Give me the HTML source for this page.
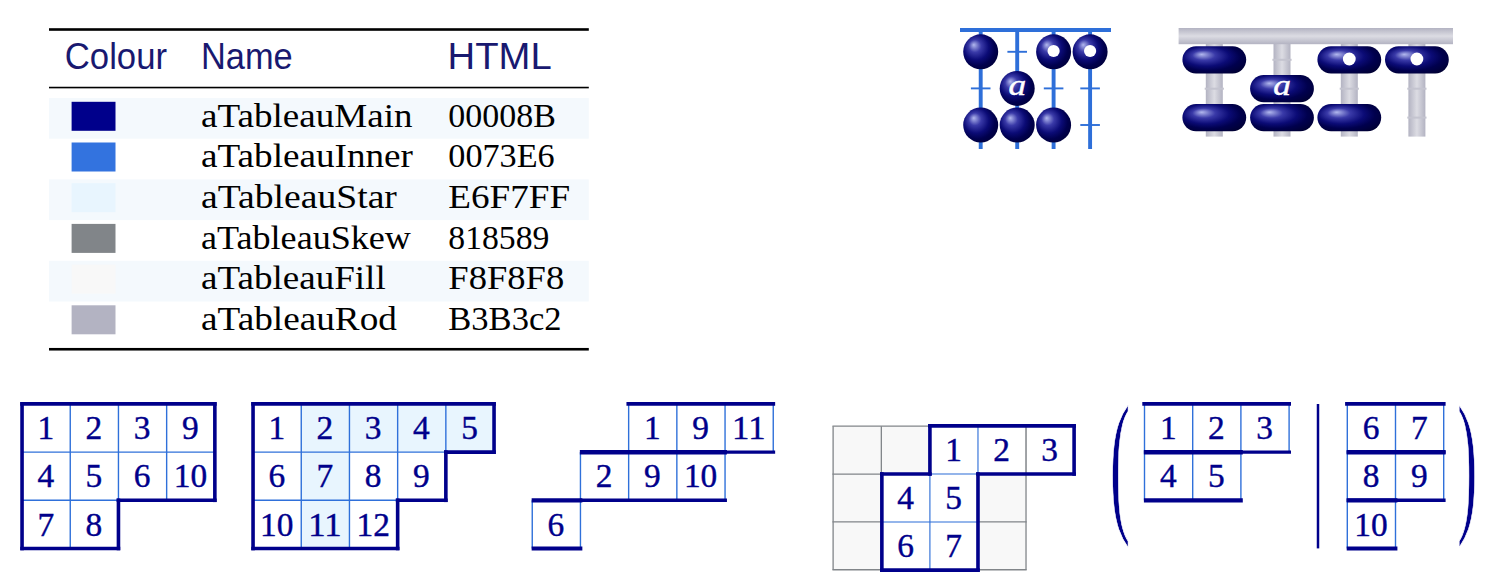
<!DOCTYPE html>
<html lang="en"><head><meta charset="utf-8"><title>aTableau colours</title>
<style>
html,body{margin:0;padding:0;background:#fff;}
body{width:1492px;height:576px;overflow:hidden;}
svg{display:block;}
text{white-space:pre;}
</style></head><body>
<svg width="1492" height="576" viewBox="0 0 1492 576">
<defs>
<radialGradient id="ball" cx="50%" cy="50%" r="100%" fx="30%" fy="30%">
<stop offset="0" stop-color="#B2B8EE"/>
<stop offset="0.18" stop-color="#3A3AA8"/>
<stop offset="0.36" stop-color="#0B0B76"/>
<stop offset="0.5" stop-color="#00004E"/>
<stop offset="1" stop-color="#000000"/>
</radialGradient>
<linearGradient id="rodv" x1="0" y1="0" x2="1" y2="0">
<stop offset="0" stop-color="#B3B3C2"/>
<stop offset="0.5" stop-color="#DCDCE3"/>
<stop offset="1" stop-color="#B3B3C2"/>
</linearGradient>
<linearGradient id="rodh" x1="0" y1="0" x2="0" y2="1">
<stop offset="0" stop-color="#B3B3C2"/>
<stop offset="0.5" stop-color="#DCDCE3"/>
<stop offset="1" stop-color="#B3B3C2"/>
</linearGradient>
</defs>
<rect width="1492" height="576" fill="#fff"/>
<rect x="49.0" y="98.0" width="539.8" height="40.7" fill="#F4F9FD"/>
<rect x="49.0" y="179.4" width="539.8" height="40.7" fill="#F4F9FD"/>
<rect x="49.0" y="260.8" width="539.8" height="40.7" fill="#F4F9FD"/>
<rect x="49.0" y="28.2" width="539.8" height="2.6" fill="#000"/>
<rect x="49.0" y="86.75" width="539.8" height="1.6" fill="#000"/>
<rect x="49.0" y="347.95" width="539.8" height="2.6" fill="#000"/>
<text x="64.8" y="68.6" font-family='"Liberation Sans", sans-serif' font-size="36.3" fill="#191970" textLength="102.2" lengthAdjust="spacingAndGlyphs">Colour</text>
<text x="201.0" y="68.6" font-family='"Liberation Sans", sans-serif' font-size="36.3" fill="#191970" textLength="91.7" lengthAdjust="spacingAndGlyphs">Name</text>
<text x="447.6" y="68.6" font-family='"Liberation Sans", sans-serif' font-size="36.3" fill="#191970" textLength="104.1" lengthAdjust="spacingAndGlyphs">HTML</text>
<rect x="71.6" y="101.8" width="43.9" height="29" fill="#00008B"/>
<text x="201.0" y="126.6" font-family='"Liberation Serif", serif' font-size="33.0" fill="#000" textLength="211.5" lengthAdjust="spacingAndGlyphs">aTableauMain</text>
<text x="448.3" y="126.6" font-family='"Liberation Serif", serif' font-size="33.0" fill="#000" textLength="107.5" lengthAdjust="spacingAndGlyphs">00008B</text>
<rect x="71.6" y="142.5" width="43.9" height="29" fill="#3373DF"/>
<text x="201.0" y="167.3" font-family='"Liberation Serif", serif' font-size="33.0" fill="#000" textLength="212.0" lengthAdjust="spacingAndGlyphs">aTableauInner</text>
<text x="448.3" y="167.3" font-family='"Liberation Serif", serif' font-size="33.0" fill="#000" textLength="106.4" lengthAdjust="spacingAndGlyphs">0073E6</text>
<rect x="71.6" y="183.2" width="43.9" height="29" fill="#E8F5FE"/>
<text x="201.0" y="208.0" font-family='"Liberation Serif", serif' font-size="33.0" fill="#000" textLength="195.9" lengthAdjust="spacingAndGlyphs">aTableauStar</text>
<text x="448.3" y="208.0" font-family='"Liberation Serif", serif' font-size="33.0" fill="#000" textLength="121.8" lengthAdjust="spacingAndGlyphs">E6F7FF</text>
<rect x="71.6" y="223.9" width="43.9" height="29" fill="#818589"/>
<text x="201.0" y="248.7" font-family='"Liberation Serif", serif' font-size="33.0" fill="#000" textLength="209.9" lengthAdjust="spacingAndGlyphs">aTableauSkew</text>
<text x="448.3" y="248.7" font-family='"Liberation Serif", serif' font-size="33.0" fill="#000" textLength="101.1" lengthAdjust="spacingAndGlyphs">818589</text>
<rect x="71.6" y="264.6" width="43.9" height="29" fill="#F8F8F8"/>
<text x="201.0" y="289.4" font-family='"Liberation Serif", serif' font-size="33.0" fill="#000" textLength="184.7" lengthAdjust="spacingAndGlyphs">aTableauFill</text>
<text x="448.3" y="289.4" font-family='"Liberation Serif", serif' font-size="33.0" fill="#000" textLength="115.9" lengthAdjust="spacingAndGlyphs">F8F8F8</text>
<rect x="71.6" y="305.3" width="43.9" height="29" fill="#B3B3C2"/>
<text x="201.0" y="330.1" font-family='"Liberation Serif", serif' font-size="33.0" fill="#000" textLength="195.9" lengthAdjust="spacingAndGlyphs">aTableauRod</text>
<text x="448.3" y="330.1" font-family='"Liberation Serif", serif' font-size="33.0" fill="#000" textLength="113.2" lengthAdjust="spacingAndGlyphs">B3B3c2</text>
<g stroke="#2E6FD9" fill="none">
<line x1="980.7" y1="30" x2="980.7" y2="149" stroke-width="3.9"/>
<line x1="1017.2" y1="30" x2="1017.2" y2="149" stroke-width="3.9"/>
<line x1="1053.6" y1="30" x2="1053.6" y2="149" stroke-width="3.9"/>
<line x1="1090.1" y1="30" x2="1090.1" y2="149" stroke-width="3.9"/>
<line x1="960" y1="30" x2="1111" y2="30" stroke-width="3.9"/>
<line x1="1007.4" y1="51.8" x2="1027.0" y2="51.8" stroke-width="1.9"/>
<line x1="970.9" y1="88.4" x2="990.5" y2="88.4" stroke-width="1.9"/>
<line x1="1043.8" y1="88.4" x2="1063.4" y2="88.4" stroke-width="1.9"/>
<line x1="1080.3" y1="88.4" x2="1099.9" y2="88.4" stroke-width="1.9"/>
<line x1="1080.3" y1="125.0" x2="1099.9" y2="125.0" stroke-width="1.9"/>
</g>
<circle cx="980.7" cy="51.8" r="17.5" fill="url(#ball)"/>
<circle cx="1053.6" cy="51.8" r="17.5" fill="url(#ball)"/>
<circle cx="1053.6" cy="51.0" r="6.1" fill="#fff"/>
<circle cx="1090.1" cy="51.8" r="17.5" fill="url(#ball)"/>
<circle cx="1090.1" cy="51.0" r="6.1" fill="#fff"/>
<circle cx="1017.2" cy="88.4" r="17.5" fill="url(#ball)"/>
<text transform="translate(1017.4,95.3) scale(1.24,1)" text-anchor="middle" font-family='"Liberation Serif", serif' font-style="italic" font-size="28.5" fill="#fff" stroke="#fff" stroke-width="0.4">a</text>
<circle cx="980.7" cy="125.0" r="17.5" fill="url(#ball)"/>
<circle cx="1017.2" cy="125.0" r="17.5" fill="url(#ball)"/>
<circle cx="1053.6" cy="125.0" r="17.5" fill="url(#ball)"/>
<rect x="1205.8" y="40" width="17" height="96.6" fill="url(#rodv)"/>
<rect x="1273.5" y="40" width="17" height="96.6" fill="url(#rodv)"/>
<rect x="1340.8" y="40" width="17" height="96.6" fill="url(#rodv)"/>
<rect x="1408.4" y="40" width="17" height="96.6" fill="url(#rodv)"/>
<rect x="1272.4" y="58.8" width="19.2" height="2" fill="#C4C4CF"/>
<rect x="1204.7" y="87.7" width="19.2" height="2" fill="#C4C4CF"/>
<rect x="1339.7" y="87.7" width="19.2" height="2" fill="#C4C4CF"/>
<rect x="1407.3" y="87.7" width="19.2" height="2" fill="#C4C4CF"/>
<rect x="1407.3" y="116.6" width="19.2" height="2" fill="#C4C4CF"/>
<rect x="1178.6" y="28" width="274.4" height="16.2" fill="url(#rodh)"/>
<rect x="1182.4" y="46.2" width="63.8" height="27.2" rx="13.6" ry="13.6" fill="url(#ball)"/>
<rect x="1317.4" y="46.2" width="63.8" height="27.2" rx="13.6" ry="13.6" fill="url(#ball)"/>
<circle cx="1349.3" cy="59.0" r="6.4" fill="#fff"/>
<rect x="1385.0" y="46.2" width="63.8" height="27.2" rx="13.6" ry="13.6" fill="url(#ball)"/>
<circle cx="1416.9" cy="59.0" r="6.4" fill="#fff"/>
<rect x="1250.1" y="75.1" width="63.8" height="27.2" rx="13.6" ry="13.6" fill="url(#ball)"/>
<text transform="translate(1282.1,95.4) scale(1.24,1)" text-anchor="middle" font-family='"Liberation Serif", serif' font-style="italic" font-size="28.5" fill="#fff" stroke="#fff" stroke-width="0.4">a</text>
<rect x="1182.4" y="104.0" width="63.8" height="27.2" rx="13.6" ry="13.6" fill="url(#ball)"/>
<rect x="1250.1" y="104.0" width="63.8" height="27.2" rx="13.6" ry="13.6" fill="url(#ball)"/>
<rect x="1317.4" y="104.0" width="63.8" height="27.2" rx="13.6" ry="13.6" fill="url(#ball)"/>
<line x1="22.05" y1="403.90" x2="214.85" y2="403.90" stroke="#2F70DA" stroke-width="1.4" stroke-linecap="butt"/>
<line x1="22.05" y1="452.10" x2="214.85" y2="452.10" stroke="#2F70DA" stroke-width="1.4" stroke-linecap="butt"/>
<line x1="22.05" y1="500.30" x2="214.85" y2="500.30" stroke="#2F70DA" stroke-width="1.4" stroke-linecap="butt"/>
<line x1="22.05" y1="548.50" x2="118.45" y2="548.50" stroke="#2F70DA" stroke-width="1.4" stroke-linecap="butt"/>
<line x1="22.05" y1="403.90" x2="22.05" y2="548.50" stroke="#2F70DA" stroke-width="1.4" stroke-linecap="butt"/>
<line x1="70.25" y1="403.90" x2="70.25" y2="548.50" stroke="#2F70DA" stroke-width="1.4" stroke-linecap="butt"/>
<line x1="118.45" y1="403.90" x2="118.45" y2="548.50" stroke="#2F70DA" stroke-width="1.4" stroke-linecap="butt"/>
<line x1="166.65" y1="403.90" x2="166.65" y2="500.30" stroke="#2F70DA" stroke-width="1.4" stroke-linecap="butt"/>
<line x1="214.85" y1="403.90" x2="214.85" y2="500.30" stroke="#2F70DA" stroke-width="1.4" stroke-linecap="butt"/>
<line x1="22.05" y1="403.90" x2="214.85" y2="403.90" stroke="#00008B" stroke-width="3.6" stroke-linecap="square"/>
<line x1="118.45" y1="500.30" x2="214.85" y2="500.30" stroke="#00008B" stroke-width="3.6" stroke-linecap="square"/>
<line x1="22.05" y1="548.50" x2="118.45" y2="548.50" stroke="#00008B" stroke-width="3.6" stroke-linecap="square"/>
<line x1="22.05" y1="403.90" x2="22.05" y2="548.50" stroke="#00008B" stroke-width="3.6" stroke-linecap="square"/>
<line x1="118.45" y1="500.30" x2="118.45" y2="548.50" stroke="#00008B" stroke-width="3.6" stroke-linecap="square"/>
<line x1="214.85" y1="403.90" x2="214.85" y2="500.30" stroke="#00008B" stroke-width="3.6" stroke-linecap="square"/>
<text x="37.4" y="439.2" font-family='"Liberation Serif", serif' font-size="32.7" fill="#00008B" textLength="16.7" lengthAdjust="spacingAndGlyphs" stroke="#00008B" stroke-width="0.4">1</text>
<text x="85.6" y="439.2" font-family='"Liberation Serif", serif' font-size="32.7" fill="#00008B" textLength="16.7" lengthAdjust="spacingAndGlyphs" stroke="#00008B" stroke-width="0.4">2</text>
<text x="133.8" y="439.2" font-family='"Liberation Serif", serif' font-size="32.7" fill="#00008B" textLength="16.7" lengthAdjust="spacingAndGlyphs" stroke="#00008B" stroke-width="0.4">3</text>
<text x="182.0" y="439.2" font-family='"Liberation Serif", serif' font-size="32.7" fill="#00008B" textLength="16.7" lengthAdjust="spacingAndGlyphs" stroke="#00008B" stroke-width="0.4">9</text>
<text x="37.4" y="487.4" font-family='"Liberation Serif", serif' font-size="32.7" fill="#00008B" textLength="16.7" lengthAdjust="spacingAndGlyphs" stroke="#00008B" stroke-width="0.4">4</text>
<text x="85.6" y="487.4" font-family='"Liberation Serif", serif' font-size="32.7" fill="#00008B" textLength="16.7" lengthAdjust="spacingAndGlyphs" stroke="#00008B" stroke-width="0.4">5</text>
<text x="133.8" y="487.4" font-family='"Liberation Serif", serif' font-size="32.7" fill="#00008B" textLength="16.7" lengthAdjust="spacingAndGlyphs" stroke="#00008B" stroke-width="0.4">6</text>
<text x="173.7" y="487.4" font-family='"Liberation Serif", serif' font-size="32.7" fill="#00008B" textLength="33.4" lengthAdjust="spacingAndGlyphs" stroke="#00008B" stroke-width="0.4">10</text>
<text x="37.4" y="535.6" font-family='"Liberation Serif", serif' font-size="32.7" fill="#00008B" textLength="16.7" lengthAdjust="spacingAndGlyphs" stroke="#00008B" stroke-width="0.4">7</text>
<text x="85.6" y="535.6" font-family='"Liberation Serif", serif' font-size="32.7" fill="#00008B" textLength="16.7" lengthAdjust="spacingAndGlyphs" stroke="#00008B" stroke-width="0.4">8</text>
<rect x="301.25" y="403.90" width="48.2" height="48.2" fill="#E8F5FE"/>
<rect x="349.45" y="403.90" width="48.2" height="48.2" fill="#E8F5FE"/>
<rect x="397.65" y="403.90" width="48.2" height="48.2" fill="#E8F5FE"/>
<rect x="445.85" y="403.90" width="48.2" height="48.2" fill="#E8F5FE"/>
<rect x="301.25" y="452.10" width="48.2" height="48.2" fill="#E8F5FE"/>
<rect x="301.25" y="500.30" width="48.2" height="48.2" fill="#E8F5FE"/>
<line x1="253.05" y1="403.90" x2="494.05" y2="403.90" stroke="#2F70DA" stroke-width="1.4" stroke-linecap="butt"/>
<line x1="253.05" y1="452.10" x2="494.05" y2="452.10" stroke="#2F70DA" stroke-width="1.4" stroke-linecap="butt"/>
<line x1="253.05" y1="500.30" x2="445.85" y2="500.30" stroke="#2F70DA" stroke-width="1.4" stroke-linecap="butt"/>
<line x1="253.05" y1="548.50" x2="397.65" y2="548.50" stroke="#2F70DA" stroke-width="1.4" stroke-linecap="butt"/>
<line x1="253.05" y1="403.90" x2="253.05" y2="548.50" stroke="#2F70DA" stroke-width="1.4" stroke-linecap="butt"/>
<line x1="301.25" y1="403.90" x2="301.25" y2="548.50" stroke="#2F70DA" stroke-width="1.4" stroke-linecap="butt"/>
<line x1="349.45" y1="403.90" x2="349.45" y2="548.50" stroke="#2F70DA" stroke-width="1.4" stroke-linecap="butt"/>
<line x1="397.65" y1="403.90" x2="397.65" y2="548.50" stroke="#2F70DA" stroke-width="1.4" stroke-linecap="butt"/>
<line x1="445.85" y1="403.90" x2="445.85" y2="500.30" stroke="#2F70DA" stroke-width="1.4" stroke-linecap="butt"/>
<line x1="494.05" y1="403.90" x2="494.05" y2="452.10" stroke="#2F70DA" stroke-width="1.4" stroke-linecap="butt"/>
<line x1="253.05" y1="403.90" x2="494.05" y2="403.90" stroke="#00008B" stroke-width="3.6" stroke-linecap="square"/>
<line x1="445.85" y1="452.10" x2="494.05" y2="452.10" stroke="#00008B" stroke-width="3.6" stroke-linecap="square"/>
<line x1="397.65" y1="500.30" x2="445.85" y2="500.30" stroke="#00008B" stroke-width="3.6" stroke-linecap="square"/>
<line x1="253.05" y1="548.50" x2="397.65" y2="548.50" stroke="#00008B" stroke-width="3.6" stroke-linecap="square"/>
<line x1="253.05" y1="403.90" x2="253.05" y2="548.50" stroke="#00008B" stroke-width="3.6" stroke-linecap="square"/>
<line x1="397.65" y1="500.30" x2="397.65" y2="548.50" stroke="#00008B" stroke-width="3.6" stroke-linecap="square"/>
<line x1="445.85" y1="452.10" x2="445.85" y2="500.30" stroke="#00008B" stroke-width="3.6" stroke-linecap="square"/>
<line x1="494.05" y1="403.90" x2="494.05" y2="452.10" stroke="#00008B" stroke-width="3.6" stroke-linecap="square"/>
<text x="268.4" y="439.2" font-family='"Liberation Serif", serif' font-size="32.7" fill="#00008B" textLength="16.7" lengthAdjust="spacingAndGlyphs" stroke="#00008B" stroke-width="0.4">1</text>
<text x="316.6" y="439.2" font-family='"Liberation Serif", serif' font-size="32.7" fill="#00008B" textLength="16.7" lengthAdjust="spacingAndGlyphs" stroke="#00008B" stroke-width="0.4">2</text>
<text x="364.8" y="439.2" font-family='"Liberation Serif", serif' font-size="32.7" fill="#00008B" textLength="16.7" lengthAdjust="spacingAndGlyphs" stroke="#00008B" stroke-width="0.4">3</text>
<text x="413.0" y="439.2" font-family='"Liberation Serif", serif' font-size="32.7" fill="#00008B" textLength="16.7" lengthAdjust="spacingAndGlyphs" stroke="#00008B" stroke-width="0.4">4</text>
<text x="461.2" y="439.2" font-family='"Liberation Serif", serif' font-size="32.7" fill="#00008B" textLength="16.7" lengthAdjust="spacingAndGlyphs" stroke="#00008B" stroke-width="0.4">5</text>
<text x="268.4" y="487.4" font-family='"Liberation Serif", serif' font-size="32.7" fill="#00008B" textLength="16.7" lengthAdjust="spacingAndGlyphs" stroke="#00008B" stroke-width="0.4">6</text>
<text x="316.6" y="487.4" font-family='"Liberation Serif", serif' font-size="32.7" fill="#00008B" textLength="16.7" lengthAdjust="spacingAndGlyphs" stroke="#00008B" stroke-width="0.4">7</text>
<text x="364.8" y="487.4" font-family='"Liberation Serif", serif' font-size="32.7" fill="#00008B" textLength="16.7" lengthAdjust="spacingAndGlyphs" stroke="#00008B" stroke-width="0.4">8</text>
<text x="413.0" y="487.4" font-family='"Liberation Serif", serif' font-size="32.7" fill="#00008B" textLength="16.7" lengthAdjust="spacingAndGlyphs" stroke="#00008B" stroke-width="0.4">9</text>
<text x="260.1" y="535.6" font-family='"Liberation Serif", serif' font-size="32.7" fill="#00008B" textLength="33.4" lengthAdjust="spacingAndGlyphs" stroke="#00008B" stroke-width="0.4">10</text>
<text x="308.3" y="535.6" font-family='"Liberation Serif", serif' font-size="32.7" fill="#00008B" textLength="33.4" lengthAdjust="spacingAndGlyphs" stroke="#00008B" stroke-width="0.4">11</text>
<text x="356.5" y="535.6" font-family='"Liberation Serif", serif' font-size="32.7" fill="#00008B" textLength="33.4" lengthAdjust="spacingAndGlyphs" stroke="#00008B" stroke-width="0.4">12</text>
<line x1="628.65" y1="403.90" x2="773.25" y2="403.90" stroke="#2F70DA" stroke-width="1.4" stroke-linecap="butt"/>
<line x1="580.45" y1="452.10" x2="773.25" y2="452.10" stroke="#2F70DA" stroke-width="1.4" stroke-linecap="butt"/>
<line x1="532.25" y1="500.30" x2="725.05" y2="500.30" stroke="#2F70DA" stroke-width="1.4" stroke-linecap="butt"/>
<line x1="532.25" y1="548.50" x2="580.45" y2="548.50" stroke="#2F70DA" stroke-width="1.4" stroke-linecap="butt"/>
<line x1="532.25" y1="500.30" x2="532.25" y2="548.50" stroke="#2F70DA" stroke-width="1.4" stroke-linecap="butt"/>
<line x1="580.45" y1="452.10" x2="580.45" y2="548.50" stroke="#2F70DA" stroke-width="1.4" stroke-linecap="butt"/>
<line x1="628.65" y1="403.90" x2="628.65" y2="500.30" stroke="#2F70DA" stroke-width="1.4" stroke-linecap="butt"/>
<line x1="676.85" y1="403.90" x2="676.85" y2="500.30" stroke="#2F70DA" stroke-width="1.4" stroke-linecap="butt"/>
<line x1="725.05" y1="403.90" x2="725.05" y2="500.30" stroke="#2F70DA" stroke-width="1.4" stroke-linecap="butt"/>
<line x1="773.25" y1="403.90" x2="773.25" y2="452.10" stroke="#2F70DA" stroke-width="1.4" stroke-linecap="butt"/>
<line x1="628.05" y1="452.10" x2="775.15" y2="452.10" stroke="#00008B" stroke-width="3.4"/>
<line x1="579.85" y1="500.30" x2="726.95" y2="500.30" stroke="#00008B" stroke-width="3.4"/>
<line x1="531.65" y1="548.50" x2="582.35" y2="548.50" stroke="#00008B" stroke-width="4.2"/>
<line x1="626.45" y1="403.90" x2="775.15" y2="403.90" stroke="#00008B" stroke-width="3.7"/>
<line x1="579.85" y1="452.20" x2="726.95" y2="452.20" stroke="#00008B" stroke-width="4.4"/>
<line x1="531.65" y1="500.40" x2="582.35" y2="500.40" stroke="#00008B" stroke-width="4.4"/>
<text x="644.0" y="439.2" font-family='"Liberation Serif", serif' font-size="32.7" fill="#00008B" textLength="16.7" lengthAdjust="spacingAndGlyphs" stroke="#00008B" stroke-width="0.4">1</text>
<text x="692.2" y="439.2" font-family='"Liberation Serif", serif' font-size="32.7" fill="#00008B" textLength="16.7" lengthAdjust="spacingAndGlyphs" stroke="#00008B" stroke-width="0.4">9</text>
<text x="732.1" y="439.2" font-family='"Liberation Serif", serif' font-size="32.7" fill="#00008B" textLength="33.4" lengthAdjust="spacingAndGlyphs" stroke="#00008B" stroke-width="0.4">11</text>
<text x="595.8" y="487.4" font-family='"Liberation Serif", serif' font-size="32.7" fill="#00008B" textLength="16.7" lengthAdjust="spacingAndGlyphs" stroke="#00008B" stroke-width="0.4">2</text>
<text x="644.0" y="487.4" font-family='"Liberation Serif", serif' font-size="32.7" fill="#00008B" textLength="16.7" lengthAdjust="spacingAndGlyphs" stroke="#00008B" stroke-width="0.4">9</text>
<text x="683.9" y="487.4" font-family='"Liberation Serif", serif' font-size="32.7" fill="#00008B" textLength="33.4" lengthAdjust="spacingAndGlyphs" stroke="#00008B" stroke-width="0.4">10</text>
<text x="547.6" y="535.6" font-family='"Liberation Serif", serif' font-size="32.7" fill="#00008B" textLength="16.7" lengthAdjust="spacingAndGlyphs" stroke="#00008B" stroke-width="0.4">6</text>
<rect x="833.10" y="426.20" width="48.23" height="47.85" fill="#F8F8F8"/>
<rect x="881.33" y="426.20" width="48.23" height="47.85" fill="#F8F8F8"/>
<rect x="833.10" y="474.05" width="48.23" height="47.85" fill="#F8F8F8"/>
<rect x="977.79" y="474.05" width="48.23" height="47.85" fill="#F8F8F8"/>
<rect x="833.10" y="521.90" width="48.23" height="47.85" fill="#F8F8F8"/>
<rect x="977.79" y="521.90" width="48.23" height="47.85" fill="#F8F8F8"/>
<line x1="833.10" y1="426.20" x2="833.10" y2="569.75" stroke="#818589" stroke-width="1.3"/>
<line x1="881.33" y1="426.20" x2="881.33" y2="569.75" stroke="#818589" stroke-width="1.3"/>
<line x1="929.56" y1="426.20" x2="929.56" y2="569.75" stroke="#818589" stroke-width="1.3"/>
<line x1="977.79" y1="426.20" x2="977.79" y2="569.75" stroke="#818589" stroke-width="1.3"/>
<line x1="1026.02" y1="426.20" x2="1026.02" y2="569.75" stroke="#818589" stroke-width="1.3"/>
<line x1="832.45" y1="426.20" x2="1026.67" y2="426.20" stroke="#818589" stroke-width="1.3"/>
<line x1="832.45" y1="474.05" x2="1026.67" y2="474.05" stroke="#818589" stroke-width="1.3"/>
<line x1="832.45" y1="521.90" x2="1026.67" y2="521.90" stroke="#818589" stroke-width="1.3"/>
<line x1="832.45" y1="569.75" x2="1026.67" y2="569.75" stroke="#818589" stroke-width="1.3"/>
<rect x="929.92" y="425.90" width="48.06" height="48.06" fill="#fff"/>
<rect x="977.98" y="425.90" width="48.06" height="48.06" fill="#fff"/>
<rect x="1026.04" y="425.90" width="48.06" height="48.06" fill="#fff"/>
<rect x="881.86" y="473.96" width="48.06" height="48.06" fill="#fff"/>
<rect x="929.92" y="473.96" width="48.06" height="48.06" fill="#fff"/>
<rect x="881.86" y="522.02" width="48.06" height="48.06" fill="#fff"/>
<rect x="929.92" y="522.02" width="48.06" height="48.06" fill="#fff"/>
<line x1="929.92" y1="473.96" x2="929.92" y2="570.08" stroke="#2A6CD8" stroke-width="1.1"/>
<line x1="881.86" y1="522.02" x2="977.98" y2="522.02" stroke="#2A6CD8" stroke-width="1.1"/>
<line x1="929.92" y1="473.96" x2="977.98" y2="473.96" stroke="#2A6CD8" stroke-width="1.1"/>
<line x1="977.98" y1="425.90" x2="977.98" y2="473.96" stroke="#2A6CD8" stroke-width="1.1"/>
<line x1="1026.02" y1="426.20" x2="1026.02" y2="474.05" stroke="#818589" stroke-width="1.5"/>
<line x1="929.92" y1="425.90" x2="1074.10" y2="425.90" stroke="#00008B" stroke-width="3.6" stroke-linecap="square"/>
<line x1="881.86" y1="473.96" x2="929.92" y2="473.96" stroke="#00008B" stroke-width="3.6" stroke-linecap="square"/>
<line x1="977.98" y1="473.96" x2="1074.10" y2="473.96" stroke="#00008B" stroke-width="3.6" stroke-linecap="square"/>
<line x1="881.86" y1="570.08" x2="977.98" y2="570.08" stroke="#00008B" stroke-width="3.6" stroke-linecap="square"/>
<line x1="881.86" y1="473.96" x2="881.86" y2="570.08" stroke="#00008B" stroke-width="3.6" stroke-linecap="square"/>
<line x1="929.92" y1="425.90" x2="929.92" y2="473.96" stroke="#00008B" stroke-width="3.6" stroke-linecap="square"/>
<line x1="977.98" y1="473.96" x2="977.98" y2="570.08" stroke="#00008B" stroke-width="3.6" stroke-linecap="square"/>
<line x1="1074.10" y1="425.90" x2="1074.10" y2="473.96" stroke="#00008B" stroke-width="3.6" stroke-linecap="square"/>
<text x="945.2" y="461.1" font-family='"Liberation Serif", serif' font-size="32.7" fill="#00008B" textLength="16.7" lengthAdjust="spacingAndGlyphs" stroke="#00008B" stroke-width="0.4">1</text>
<text x="993.3" y="461.1" font-family='"Liberation Serif", serif' font-size="32.7" fill="#00008B" textLength="16.7" lengthAdjust="spacingAndGlyphs" stroke="#00008B" stroke-width="0.4">2</text>
<text x="1041.3" y="461.1" font-family='"Liberation Serif", serif' font-size="32.7" fill="#00008B" textLength="16.7" lengthAdjust="spacingAndGlyphs" stroke="#00008B" stroke-width="0.4">3</text>
<text x="897.2" y="509.2" font-family='"Liberation Serif", serif' font-size="32.7" fill="#00008B" textLength="16.7" lengthAdjust="spacingAndGlyphs" stroke="#00008B" stroke-width="0.4">4</text>
<text x="945.2" y="509.2" font-family='"Liberation Serif", serif' font-size="32.7" fill="#00008B" textLength="16.7" lengthAdjust="spacingAndGlyphs" stroke="#00008B" stroke-width="0.4">5</text>
<text x="897.2" y="557.2" font-family='"Liberation Serif", serif' font-size="32.7" fill="#00008B" textLength="16.7" lengthAdjust="spacingAndGlyphs" stroke="#00008B" stroke-width="0.4">6</text>
<text x="945.2" y="557.2" font-family='"Liberation Serif", serif' font-size="32.7" fill="#00008B" textLength="16.7" lengthAdjust="spacingAndGlyphs" stroke="#00008B" stroke-width="0.4">7</text>
<line x1="1144.50" y1="403.90" x2="1289.10" y2="403.90" stroke="#2F70DA" stroke-width="1.4" stroke-linecap="butt"/>
<line x1="1144.50" y1="452.10" x2="1289.10" y2="452.10" stroke="#2F70DA" stroke-width="1.4" stroke-linecap="butt"/>
<line x1="1144.50" y1="500.30" x2="1240.90" y2="500.30" stroke="#2F70DA" stroke-width="1.4" stroke-linecap="butt"/>
<line x1="1144.50" y1="403.90" x2="1144.50" y2="500.30" stroke="#2F70DA" stroke-width="1.4" stroke-linecap="butt"/>
<line x1="1192.70" y1="403.90" x2="1192.70" y2="500.30" stroke="#2F70DA" stroke-width="1.4" stroke-linecap="butt"/>
<line x1="1240.90" y1="403.90" x2="1240.90" y2="500.30" stroke="#2F70DA" stroke-width="1.4" stroke-linecap="butt"/>
<line x1="1289.10" y1="403.90" x2="1289.10" y2="452.10" stroke="#2F70DA" stroke-width="1.4" stroke-linecap="butt"/>
<line x1="1143.90" y1="452.10" x2="1291.00" y2="452.10" stroke="#00008B" stroke-width="3.4"/>
<line x1="1143.90" y1="500.30" x2="1242.80" y2="500.30" stroke="#00008B" stroke-width="4.2"/>
<line x1="1142.30" y1="403.90" x2="1291.00" y2="403.90" stroke="#00008B" stroke-width="3.7"/>
<line x1="1143.90" y1="452.20" x2="1242.80" y2="452.20" stroke="#00008B" stroke-width="4.4"/>
<text x="1159.9" y="439.2" font-family='"Liberation Serif", serif' font-size="32.7" fill="#00008B" textLength="16.7" lengthAdjust="spacingAndGlyphs" stroke="#00008B" stroke-width="0.4">1</text>
<text x="1208.1" y="439.2" font-family='"Liberation Serif", serif' font-size="32.7" fill="#00008B" textLength="16.7" lengthAdjust="spacingAndGlyphs" stroke="#00008B" stroke-width="0.4">2</text>
<text x="1256.3" y="439.2" font-family='"Liberation Serif", serif' font-size="32.7" fill="#00008B" textLength="16.7" lengthAdjust="spacingAndGlyphs" stroke="#00008B" stroke-width="0.4">3</text>
<text x="1159.9" y="487.4" font-family='"Liberation Serif", serif' font-size="32.7" fill="#00008B" textLength="16.7" lengthAdjust="spacingAndGlyphs" stroke="#00008B" stroke-width="0.4">4</text>
<text x="1208.1" y="487.4" font-family='"Liberation Serif", serif' font-size="32.7" fill="#00008B" textLength="16.7" lengthAdjust="spacingAndGlyphs" stroke="#00008B" stroke-width="0.4">5</text>
<line x1="1347.30" y1="403.90" x2="1443.70" y2="403.90" stroke="#2F70DA" stroke-width="1.4" stroke-linecap="butt"/>
<line x1="1347.30" y1="452.10" x2="1443.70" y2="452.10" stroke="#2F70DA" stroke-width="1.4" stroke-linecap="butt"/>
<line x1="1347.30" y1="500.30" x2="1443.70" y2="500.30" stroke="#2F70DA" stroke-width="1.4" stroke-linecap="butt"/>
<line x1="1347.30" y1="548.50" x2="1395.50" y2="548.50" stroke="#2F70DA" stroke-width="1.4" stroke-linecap="butt"/>
<line x1="1347.30" y1="403.90" x2="1347.30" y2="548.50" stroke="#2F70DA" stroke-width="1.4" stroke-linecap="butt"/>
<line x1="1395.50" y1="403.90" x2="1395.50" y2="548.50" stroke="#2F70DA" stroke-width="1.4" stroke-linecap="butt"/>
<line x1="1443.70" y1="403.90" x2="1443.70" y2="500.30" stroke="#2F70DA" stroke-width="1.4" stroke-linecap="butt"/>
<line x1="1346.70" y1="452.10" x2="1445.60" y2="452.10" stroke="#00008B" stroke-width="3.4"/>
<line x1="1346.70" y1="500.30" x2="1445.60" y2="500.30" stroke="#00008B" stroke-width="3.4"/>
<line x1="1346.70" y1="548.50" x2="1397.40" y2="548.50" stroke="#00008B" stroke-width="4.2"/>
<line x1="1345.10" y1="403.90" x2="1445.60" y2="403.90" stroke="#00008B" stroke-width="3.7"/>
<line x1="1346.70" y1="452.20" x2="1445.60" y2="452.20" stroke="#00008B" stroke-width="4.4"/>
<line x1="1346.70" y1="500.40" x2="1397.40" y2="500.40" stroke="#00008B" stroke-width="4.4"/>
<text x="1362.7" y="439.2" font-family='"Liberation Serif", serif' font-size="32.7" fill="#00008B" textLength="16.7" lengthAdjust="spacingAndGlyphs" stroke="#00008B" stroke-width="0.4">6</text>
<text x="1410.9" y="439.2" font-family='"Liberation Serif", serif' font-size="32.7" fill="#00008B" textLength="16.7" lengthAdjust="spacingAndGlyphs" stroke="#00008B" stroke-width="0.4">7</text>
<text x="1362.7" y="487.4" font-family='"Liberation Serif", serif' font-size="32.7" fill="#00008B" textLength="16.7" lengthAdjust="spacingAndGlyphs" stroke="#00008B" stroke-width="0.4">8</text>
<text x="1410.9" y="487.4" font-family='"Liberation Serif", serif' font-size="32.7" fill="#00008B" textLength="16.7" lengthAdjust="spacingAndGlyphs" stroke="#00008B" stroke-width="0.4">9</text>
<text x="1354.3" y="535.6" font-family='"Liberation Serif", serif' font-size="32.7" fill="#00008B" textLength="33.4" lengthAdjust="spacingAndGlyphs" stroke="#00008B" stroke-width="0.4">10</text>
<line x1="1318" y1="404" x2="1318" y2="548.4" stroke="#00008B" stroke-width="2.5"/>
<text transform="translate(1110.1,513.5) scale(0.5,1.30)" font-family='"Liberation Serif", serif' font-size="120" fill="#00008B" stroke="#fff" stroke-width="0.9" vector-effect="non-scaling-stroke">(</text>
<text transform="translate(1457.2,513.5) scale(0.5,1.30)" font-family='"Liberation Serif", serif' font-size="120" fill="#00008B" stroke="#fff" stroke-width="0.9" vector-effect="non-scaling-stroke">)</text>
</svg>
</body></html>
